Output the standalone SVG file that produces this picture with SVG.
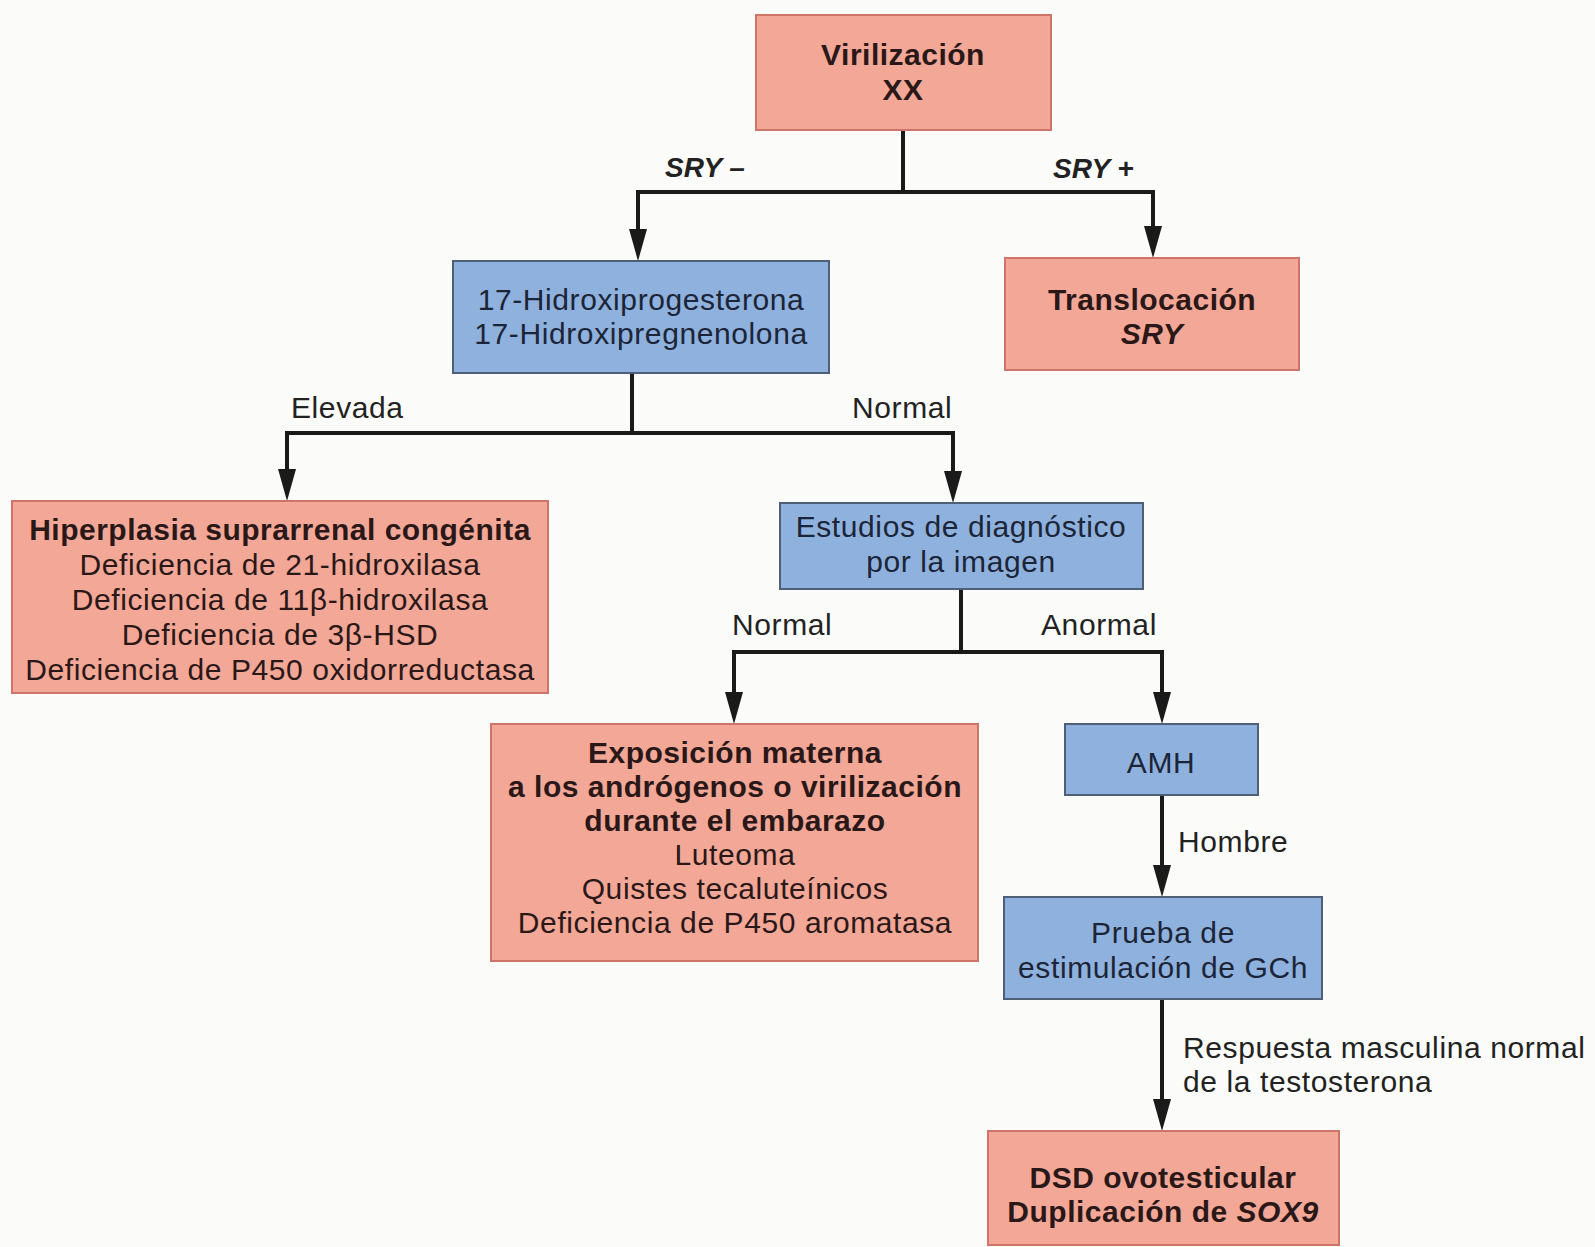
<svg xmlns="http://www.w3.org/2000/svg" width="1595" height="1247" viewBox="0 0 1595 1247">
<style>
  .bg { fill: #fbfcf9; }
  .pink { fill: #f3a796; stroke: #cf7468; stroke-width: 2; }
  .blue { fill: #8fb1dd; stroke: #4f5f78; stroke-width: 2; }
  text { font-family: "Liberation Sans", Arial, sans-serif; font-size: 30px; letter-spacing: 0.6px; }
  .c { text-anchor: middle; }
  .b { font-weight: bold; letter-spacing: 0.5px; }
  .i { font-style: italic; }
  .pt { fill: #2a1818; }
  .bt { fill: #1c2538; }
  .lt { fill: #222222; }
  .sry { font-weight: bold; font-style: italic; font-size: 28px; letter-spacing: 0; fill: #222222; }
  .conn path { fill: none; stroke: #1a1a1a; stroke-width: 4; stroke-linejoin: miter; stroke-linecap: butt; }
</style>
<defs>
  <marker id="arr" markerUnits="userSpaceOnUse" markerWidth="34" markerHeight="20" refX="2" refY="9" orient="auto">
    <path d="M0,0 L32,9 L0,18 z" fill="#1a1a1a"/>
  </marker>
</defs>
<rect class="bg" x="0" y="0" width="1595" height="1247"/>

<g id="connectors" class="conn">
  <path d="M903 130 V192 H638 V231" marker-end="url(#arr)"/>
  <path d="M903 192 H1153 V228" marker-end="url(#arr)"/>
  <path d="M632 373 V433 H287 V471" marker-end="url(#arr)"/>
  <path d="M632 433 H953 V473" marker-end="url(#arr)"/>
  <path d="M961 589 V652 H734 V694" marker-end="url(#arr)"/>
  <path d="M961 652 H1162 V694" marker-end="url(#arr)"/>
  <path d="M1162 795 V867" marker-end="url(#arr)"/>
  <path d="M1162 999 V1101" marker-end="url(#arr)"/>
</g>

<g id="edge-labels">
  <text class="sry" x="665" y="177">SRY –</text>
  <text class="sry" x="1053" y="178">SRY +</text>
  <text class="lt" x="291" y="418">Elevada</text>
  <text class="lt" x="852" y="418">Normal</text>
  <text class="lt" x="732" y="635">Normal</text>
  <text class="lt" x="1041" y="635">Anormal</text>
  <text class="lt" x="1178" y="852">Hombre</text>
  <text class="lt" x="1183" y="1058">Respuesta masculina normal</text>
  <text class="lt" x="1183" y="1092">de la testosterona</text>
</g>

<g id="node-virilizacion">
  <rect class="pink" x="756" y="15" width="295" height="115"/>
  <text class="c b pt" x="903" y="65">Virilización</text>
  <text class="c b pt" x="903" y="100">XX</text>
</g>

<g id="node-17oh">
  <rect class="blue" x="453" y="261" width="376" height="112"/>
  <text class="c bt" x="641" y="310">17-Hidroxiprogesterona</text>
  <text class="c bt" x="641" y="344">17-Hidroxipregnenolona</text>
</g>

<g id="node-translocacion">
  <rect class="pink" x="1005" y="258" width="294" height="112"/>
  <text class="c b pt" x="1152" y="310">Translocación</text>
  <text class="c b i pt" x="1152" y="344">SRY</text>
</g>

<g id="node-hiperplasia">
  <rect class="pink" x="12" y="501" width="536" height="192"/>
  <text class="c b pt" x="280" y="540">Hiperplasia suprarrenal congénita</text>
  <text class="c pt" x="280" y="575">Deficiencia de 21-hidroxilasa</text>
  <text class="c pt" x="280" y="610">Deficiencia de 11β-hidroxilasa</text>
  <text class="c pt" x="280" y="645">Deficiencia de 3β-HSD</text>
  <text class="c pt" x="280" y="680">Deficiencia de P450 oxidorreductasa</text>
</g>

<g id="node-estudios">
  <rect class="blue" x="780" y="503" width="363" height="86"/>
  <text class="c bt" x="961" y="537">Estudios de diagnóstico</text>
  <text class="c bt" x="961" y="572">por la imagen</text>
</g>

<g id="node-exposicion">
  <rect class="pink" x="491" y="724" width="487" height="237"/>
  <text class="c b pt" x="735" y="763">Exposición materna</text>
  <text class="c b pt" x="735" y="797">a los andrógenos o virilización</text>
  <text class="c b pt" x="735" y="831">durante el embarazo</text>
  <text class="c pt" x="735" y="865">Luteoma</text>
  <text class="c pt" x="735" y="899">Quistes tecaluteínicos</text>
  <text class="c pt" x="735" y="933">Deficiencia de P450 aromatasa</text>
</g>

<g id="node-amh">
  <rect class="blue" x="1065" y="724" width="193" height="71"/>
  <text class="c bt" x="1161" y="773">AMH</text>
</g>

<g id="node-prueba">
  <rect class="blue" x="1004" y="897" width="318" height="102"/>
  <text class="c bt" x="1163" y="943">Prueba de</text>
  <text class="c bt" x="1163" y="978">estimulación de GCh</text>
</g>

<g id="node-dsd">
  <rect class="pink" x="988" y="1131" width="351" height="114"/>
  <text class="c b pt" x="1163" y="1188">DSD ovotesticular</text>
  <text class="c b pt" x="1163" y="1222">Duplicación de <tspan class="i">SOX9</tspan></text>
</g>
</svg>
